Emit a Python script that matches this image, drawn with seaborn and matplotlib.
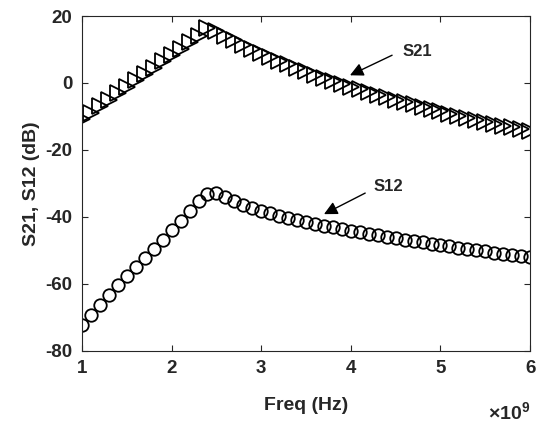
import matplotlib
matplotlib.use("Agg")
import matplotlib.pyplot as plt
import matplotlib.ticker as mticker
import seaborn as sns
import pandas as pd

# ------------------------------------------------------------
# Data
# ------------------------------------------------------------
freq_ghz = [1.0, 1.1, 1.2, 1.3, 1.4, 1.5, 1.6, 1.7, 1.8, 1.9,
            2.0, 2.1, 2.2, 2.3, 2.4, 2.5, 2.6, 2.7, 2.8, 2.9,
            3.0, 3.1, 3.2, 3.3, 3.4, 3.5, 3.6, 3.7, 3.8, 3.9,
            4.0, 4.1, 4.2, 4.3, 4.4, 4.5, 4.6, 4.7, 4.8, 4.9,
            5.0, 5.1, 5.2, 5.3, 5.4, 5.5, 5.6, 5.7, 5.8, 5.9, 6.0]

s21_db = [-10.8, -8.9, -7.0, -5.0, -3.1, -1.2, 0.8, 2.7, 4.6, 6.5,
          8.4, 10.3, 12.2, 14.1, 16.4, 15.6, 14.1, 12.7, 11.3, 10.1,
          8.9, 7.8, 6.7, 5.6, 4.5, 3.5, 2.5, 1.5, 0.6, -0.3,
          -1.1, -1.9, -2.7, -3.5, -4.3, -5.0, -5.7, -6.4, -7.1, -7.8,
          -8.5, -9.2, -9.8, -10.4, -11.0, -11.6, -12.2, -12.8, -13.3, -13.8, -14.3]

s12_db = [-72.4, -69.2, -66.3, -63.4, -60.5, -57.7, -55.0, -52.3, -49.6, -46.8,
          -44.0, -41.1, -38.2, -35.3, -33.3, -33.0, -34.2, -35.4, -36.5, -37.4,
          -38.2, -39.0, -39.7, -40.4, -41.0, -41.6, -42.1, -42.6, -43.1, -43.6,
          -44.1, -44.6, -45.0, -45.5, -45.9, -46.4, -46.8, -47.2, -47.6, -48.0,
          -48.4, -48.8, -49.2, -49.6, -50.0, -50.3, -50.7, -51.0, -51.4, -51.7, -52.0]

x_ticks = [1, 2, 3, 4, 5, 6]
y_ticks = [-80, -60, -40, -20, 0, 20]

df = pd.DataFrame({"Freq": [f * 1e9 for f in freq_ghz], "S21": s21_db, "S12": s12_db})

# ------------------------------------------------------------
# Style
# ------------------------------------------------------------
sns.set_style("ticks", {"xtick.direction": "in", "ytick.direction": "in"})
plt.rcParams["font.family"] = ["Liberation Sans", "DejaVu Sans"]
plt.rcParams["font.weight"] = "bold"
plt.rcParams["axes.unicode_minus"] = False
plt.rcParams["mathtext.fontset"] = "custom"
plt.rcParams["mathtext.rm"] = "Liberation Sans"
plt.rcParams["mathtext.bf"] = "Liberation Sans:bold"

dark = "#262626"

fig = plt.figure(figsize=(5.36, 4.23), dpi=100)
ax = fig.add_axes([0.153, 0.171, 0.836, 0.791])

sns.lineplot(data=df, x="Freq", y="S21", ax=ax, linestyle="", marker=">",
             markersize=12, markerfacecolor="none", markeredgecolor="black",
             markeredgewidth=1.3, color="black")
sns.lineplot(data=df, x="Freq", y="S12", ax=ax, linestyle="", marker="o",
             markersize=9, markerfacecolor="none", markeredgecolor="black",
             markeredgewidth=1.3, color="black")

ax.set_xlim(1e9, 6e9)
ax.set_ylim(-80, 20)
ax.set_xticks([t * 1e9 for t in x_ticks])
ax.xaxis.set_major_formatter(mticker.FuncFormatter(lambda v, _: f"{v / 1e9:.0f}"))
ax.set_yticks(y_ticks)

ax.tick_params(axis="both", which="both", top=True, right=True, length=4,
               width=0.8, color=dark, labelcolor=dark, labelsize=13.5, pad=7)
for lab in ax.get_xticklabels() + ax.get_yticklabels():
    lab.set_fontweight("bold")
for sp in ax.spines.values():
    sp.set_visible(True)
    sp.set_color(dark)
    sp.set_linewidth(0.8)

ax.set_xlabel("Freq (Hz)", fontsize=14, fontweight="bold", color=dark, labelpad=14)
ax.set_ylabel("S21, S12 (dB)", fontsize=14, fontweight="bold", color=dark, labelpad=4)

# exponent label like MATLAB
ax.text(1.0, -0.185, r"$\times$" + r"$\mathbf{10^{9}}$", transform=ax.transAxes,
        ha="right", va="center", fontsize=14, color=dark)

# annotations: arrow plus separate label
arrow = dict(arrowstyle="-|>", color="black", lw=1.0, mutation_scale=20,
             shrinkA=0, shrinkB=0)
ax.annotate("", xy=(3.99e9, 2.3), xytext=(4.46e9, 8.3), arrowprops=arrow)
ax.text(4.74e9, 9.5, "S21", fontsize=12, fontweight="bold", color=dark,
        ha="center", va="center")
ax.annotate("", xy=(3.70e9, -39.2), xytext=(4.16e9, -32.9), arrowprops=arrow)
ax.text(4.42e9, -31.0, "S12", fontsize=12, fontweight="bold", color=dark,
        ha="center", va="center")

fig.savefig("out.png", dpi=100)
